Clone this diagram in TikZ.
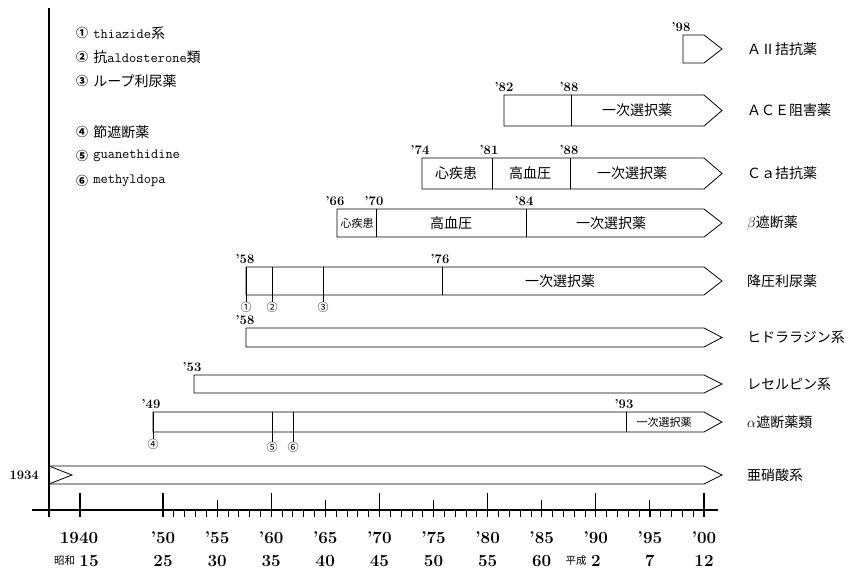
\documentclass[tikz,border=0pt]{standalone}
\usepackage{fontspec}
\newfontfamily\cjk{Noto Sans CJK JP}
\usetikzlibrary{positioning}

\begin{document}
\begin{tikzpicture}[
    x=1pt, y=-1pt,
    bar/.style={
        draw=black,
        line width=0.8pt,
        line join=miter
    },
    sep/.style={
        draw=black,
        line width=0.7pt
    },
    axis/.style={
        draw=black,
        line width=1.1pt
    },
    yr/.style={
        font=\bfseries\fontsize{13}{13}\selectfont,
        inner sep=0pt,
        anchor=south
    },
    drug/.style={
        font=\cjk\fontsize{14}{14}\selectfont,
        inner sep=0pt,
        anchor=west
    },
    phase/.style={
        font=\cjk\fontsize{14}{14}\selectfont,
        inner sep=0pt
    },
    smallphase/.style={
        font=\cjk\fontsize{11}{11}\selectfont,
        inner sep=0pt
    },
    legend/.style={
        font=\ttfamily\fontsize{14}{14}\selectfont,
        inner sep=0pt
    },
    legnum/.style={
        font=\cjk\bfseries\fontsize{12}{12}\selectfont,
        inner sep=0pt
    },
    circnum/.style={
        font=\cjk\fontsize{11}{11}\selectfont,
        inner sep=0pt
    },
    ticklab/.style={
        font=\bfseries\fontsize{17}{17}\selectfont,
        inner sep=0pt
    },
    era/.style={
        font=\cjk\fontsize{10.5}{10.5}\selectfont,
        inner sep=0pt
    }
]
\useasboundingbox (0,0) rectangle (850,575);

% Legend
\node[legnum] (n1) at (82,33) {①};
\node[legend, right=5pt of n1] (t1) {thiazide{\cjk 系}};
\node[legnum] (n2) at (82,57) {②};
\node[legend, right=5pt of n2] (t2) {{\cjk 抗}aldosterone{\cjk 類}};
\node[legnum] (n3) at (82,81) {③};
\node[legend, right=5pt of n3] (t3) {{\cjk ループ利尿薬}};
\node[legnum] (n4) at (82,132) {④};
\node[legend, right=5pt of n4] (t4) {{\cjk 節遮断薬}};
\node[legnum] (n5) at (82,156) {⑤};
\node[legend, right=5pt of n5] (t5) {guanethidine};
\node[legnum] (n6) at (82,181) {⑥};
\node[legend, right=5pt of n6] (t6) {methyldopa};

% Axes
\draw[axis] (49,8) -- (49,517);
\draw[axis] (32,510) -- (718,510);
\draw[axis] (80,493) -- (80,517);
\foreach \i in {1,...,49}
    \draw[sep] ({163+10.82*\i},510) -- ++(0,7);
\foreach \i in {5,15,...,45}
    \draw[axis] ({163+10.82*\i},500) -- ++(0,17);
\foreach \i in {0,10,...,50}
    \draw[axis] ({163+10.82*\i},493) -- ++(0,24);

% Axis labels
\node[ticklab] (s1940) at (79,538) {1940};
\foreach \i/\lab in {0/’50,5/’55,10/’60,15/’65,20/’70,25/’75,30/’80,35/’85,40/’90,45/’95,50/’00}
    \node[ticklab] (ya\i) at ({163+10.82*\i},538) {\lab};
\node[ticklab] (s15) at (89,561) {15};
\node[era, left=4pt of s15] (showa) {昭和};
\foreach \i/\lab in {0/25,5/30,10/35,15/40,20/45,25/50,30/55,35/60,40/2,45/7,50/12}
    \node[ticklab] (yb\i) at ({163+10.82*\i},561) {\lab};
\node[era, left=4pt of yb40] (heisei) {平成};

% Bars
\foreach \xs/\yt/\yb in {683/35/63, 504/95/126, 422/158/189, 337/209/237, 246/267/295, 246/328/347, 194/375/393, 153/412/432}
    \draw[bar] (\xs,\yt) -- (704,\yt) -- (722,{(\yt+\yb)/2}) -- (704,\yb) -- (\xs,\yb) -- cycle;
\draw[bar] (49,466) -- (704,466) -- (722,475) -- (704,484) -- (49,484);
\draw[bar] (49,466) -- (72,475) -- (49,484);
\foreach \x/\yt/\yb in {571/95/126, 492/158/189, 570/158/189, 376/209/237, 526/209/237, 442/267/295, 626/412/432}
    \draw[sep] (\x,\yt) -- (\x,\yb);

% Years
\node[yr] (y98) at (681,32) {’98};
\node[yr] (y82) at (504,92) {’82};
\node[yr] (y88a) at (569,92) {’88};
\node[yr] (y74) at (420,155) {’74};
\node[yr] (y81) at (489,155) {’81};
\node[yr] (y88b) at (569,155) {’88};
\node[yr] (y66) at (335,206) {’66};
\node[yr] (y70) at (374,206) {’70};
\node[yr] (y84) at (524,206) {’84};
\node[yr] (y58a) at (245,264) {’58};
\node[yr] (y76) at (440,264) {’76};
\node[yr] (y58b) at (245,325) {’58};
\node[yr] (y53) at (192,372) {’53};
\node[yr] (y49) at (151,409) {’49};
\node[yr] (y93) at (624,409) {’93};
\node[yr, anchor=east] (y34) at (39,475) {1934};

% Phases
\node[phase] (p1) at (637,110) {一次選択薬};
\node[phase] (p2) at (456,173) {心疾患};
\node[phase] (p3) at (530,173) {高血圧};
\node[phase] (p4) at (632,173) {一次選択薬};
\node[smallphase] (p5) at (357,223) {心疾患};
\node[phase] (p6) at (451,223) {高血圧};
\node[phase] (p7) at (611,223) {一次選択薬};
\node[phase] (p8) at (560,281) {一次選択薬};
\node[smallphase] (p9) at (664,422) {一次選択薬};

% Drug classes
\node[drug] (aii) at (747,49) {ＡⅡ拮抗薬};
\node[drug] (ace) at (747,110) {ＡＣＥ阻害薬};
\node[drug] (ca) at (747,173) {Ｃａ拮抗薬};
\node[drug] (beta) at (747,223) {$\beta$遮断薬};
\node[drug] (diur) at (747,281) {降圧利尿薬};
\node[drug] (hydr) at (747,337) {ヒドララジン系};
\node[drug] (rese) at (747,384) {レセルピン系};
\node[drug] (alpha) at (747,422) {$\alpha$遮断薬類};
\node[drug] (nitr) at (747,475) {亜硝酸系};

% Markers
\node[circnum] (c1) at (246,307) {①};
\node[circnum] (c2) at (272,307) {②};
\node[circnum] (c3) at (323,307) {③};
\node[circnum] (c4) at (153,444) {④};
\node[circnum] (c5) at (272,447) {⑤};
\node[circnum] (c6) at (293,447) {⑥};
\coordinate (m1) at (246,267);
\coordinate (m2) at (272,267);
\coordinate (m3) at (323,267);
\coordinate (m4) at (153,412);
\coordinate (m5) at (272,412);
\coordinate (m6) at (293,412);
\foreach \k in {1,...,6}
    \draw[sep] (m\k) -- (c\k.north);

\end{tikzpicture}
\end{document}
